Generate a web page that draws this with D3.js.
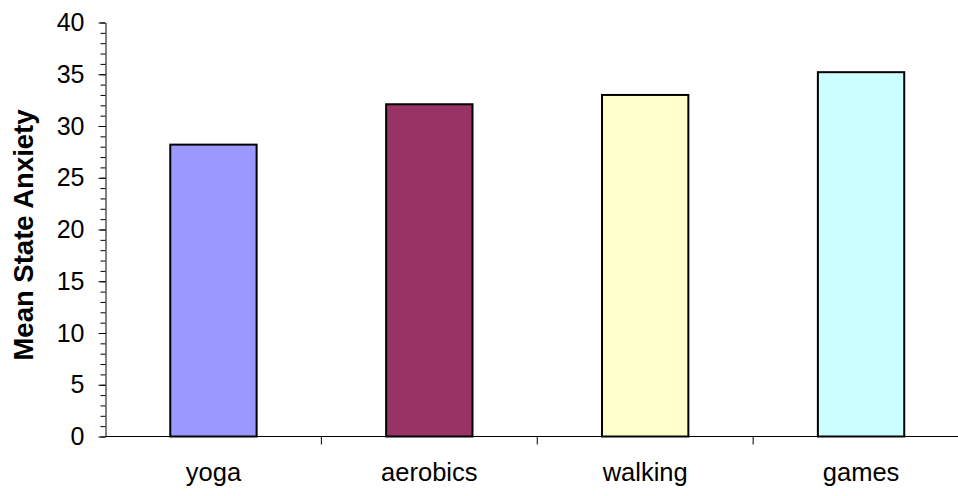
<!DOCTYPE html>
<html>
<head>
<meta charset="utf-8">
<script src="https://cdn.jsdelivr.net/npm/d3@7"></script>
<style>
  html, body { margin: 0; padding: 0; background: #fff; }
  svg { display: block; font-family: "Liberation Sans", Arial, sans-serif; }
</style>
</head>
<body>
<svg id="chart" width="958" height="496"></svg>
<script>
// Mean state anxiety by activity group
const categories = ["yoga", "aerobics", "walking", "games"];
const meanAnxiety = [28.2, 32.1, 33.0, 35.2];
const barColors = ["#9999FF", "#993366", "#FFFFCC", "#CCFFFF"];
const yMajorTicks = [0, 5, 10, 15, 20, 25, 30, 35, 40];
const yMinorTicks = d3.range(0, 41, 1);
const yTitle = "Mean State Anxiety";

const svg = d3.select("#chart");
const plotLeft = 105.5, plotRight = 969, plotTop = 22.5, plotBottom = 436.5;

const x = d3.scaleBand().domain(categories).range([plotLeft, plotRight]).paddingInner(0).paddingOuter(0);
const y = d3.scaleLinear().domain([0, 40]).range([plotBottom, plotTop]);

const barW = x.bandwidth() * 0.4;

// bars
svg.append("g").selectAll("rect")
  .data(categories)
  .join("rect")
  .attr("x", (d) => x(d) + (x.bandwidth() - barW) / 2)
  .attr("y", (d, i) => y(meanAnxiety[i]))
  .attr("width", barW)
  .attr("height", (d, i) => y(0) - y(meanAnxiety[i]))
  .attr("fill", (d, i) => barColors[i])
  .attr("stroke", "#000")
  .attr("stroke-width", 2);

// y axis: minor ticks
svg.append("g")
  .attr("transform", `translate(${plotLeft},0)`)
  .call(d3.axisLeft(y).tickValues(yMinorTicks).tickSize(5).tickFormat(""))
  .call(g => g.select(".domain").remove())
  .selectAll("line").attr("stroke", "#000");

// y axis: major ticks and labels
svg.append("g")
  .attr("transform", `translate(${plotLeft},0)`)
  .call(d3.axisLeft(y).tickValues(yMajorTicks).tickSize(7).tickSizeOuter(0).tickPadding(14))
  .call(g => g.select(".domain").attr("stroke", "#000"))
  .call(g => g.selectAll("line").attr("stroke", "#000"))
  .call(g => g.selectAll("text")
    .attr("font-size", 25)
    .attr("fill", "#000")
    .attr("font-family", "'Liberation Sans', Arial, sans-serif"));

// x axis: category boundaries as ticks
const boundaries = categories.map(c => x(c)).concat([plotRight]);
svg.append("line")
  .attr("x1", plotLeft).attr("x2", plotRight)
  .attr("y1", plotBottom).attr("y2", plotBottom)
  .attr("stroke", "#000");
svg.append("g").selectAll("line")
  .data(boundaries.slice(1))
  .join("line")
  .attr("x1", d => d).attr("x2", d => d)
  .attr("y1", plotBottom).attr("y2", plotBottom + 8)
  .attr("stroke", "#000");

// category labels
svg.append("g").selectAll("text")
  .data(categories)
  .join("text")
  .attr("x", d => x(d) + x.bandwidth() / 2)
  .attr("y", 481)
  .attr("text-anchor", "middle")
  .attr("font-size", 25.5)
  .attr("fill", "#000")
  .text(d => d);

// y axis title
svg.append("text")
  .attr("transform", "translate(33,235) rotate(-90)")
  .attr("text-anchor", "middle")
  .attr("font-size", 27.5)
  .attr("font-weight", "bold")
  .attr("fill", "#000")
  .text(yTitle);
</script>
</body>
</html>
